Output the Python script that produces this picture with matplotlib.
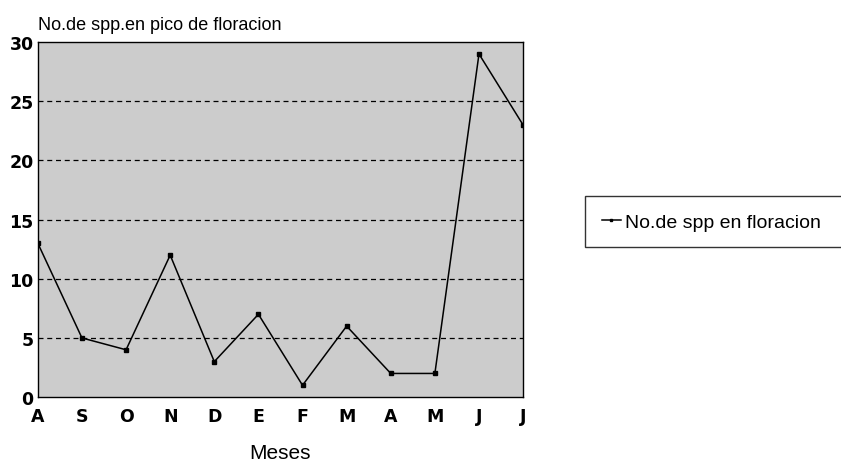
import numpy as np
import matplotlib
matplotlib.use("Agg")
import matplotlib.pyplot as plt

plt.rcParams['font.family'] = ['Liberation Sans', 'DejaVu Sans']

meses = ['A', 'S', 'O', 'N', 'D', 'E', 'F', 'M', 'A', 'M', 'J', 'J']
n_spp = [13, 5, 4, 12, 3, 7, 1, 6, 2, 2, 29, 23]

fig = plt.figure(figsize=(8.41, 4.64), dpi=100)
ax = fig.add_axes([0.045, 0.142, 0.577, 0.765])

x = np.arange(len(meses))
ax.set_facecolor('#cccccc')
ax.plot(x, n_spp, color='black', lw=1.1, marker='s', markersize=3,
        label='No.de spp en floracion')

ax.set_xlim(0, len(meses) - 1)
ax.set_ylim(0, 30)
ax.set_yticks(range(0, 31, 5))
ax.set_xticks(x)
ax.set_xticklabels(meses)
tick_font = dict(family='DejaVu Sans', weight='bold', size=12.5)
for lab in ax.get_xticklabels() + ax.get_yticklabels():
    lab.set_fontproperties(tick_font)
ax.tick_params(axis='y', length=0, pad=3)
ax.tick_params(axis='x', length=0, pad=7)
for v in range(5, 30, 5):
    ax.axhline(v, color='black', lw=0.9, ls=(0, (4, 3)), zorder=1)
for s in ax.spines.values():
    s.set_linewidth(1.0)

ax.set_xlabel('Meses', fontsize=15, labelpad=13)
fig.text(0.045, 0.945, 'No.de spp.en pico de floracion', fontsize=13,
         ha='left', va='center')

leg = fig.legend(loc='center left', bbox_to_anchor=(0.6956, 0.52, 0.35, 0.0),
                 mode='expand', frameon=True, fancybox=False, fontsize=14,
                 handlelength=1.0, handletextpad=0.2, borderpad=0.85,
                 borderaxespad=0, markerscale=0.6)
leg.get_frame().set_edgecolor('black')
leg.get_frame().set_linewidth(1.0)

fig.savefig('out.png', dpi=100)
